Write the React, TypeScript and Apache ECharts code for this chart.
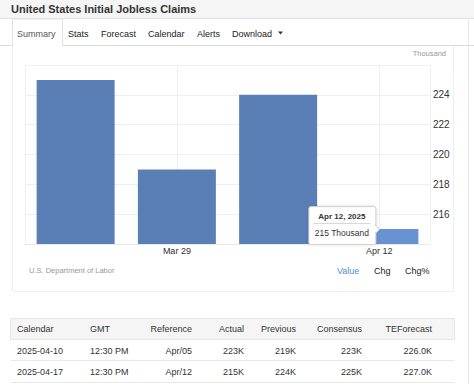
import React, { useEffect, useRef } from "react";
import * as echarts from "echarts";

const categories = ["Mar 22", "Mar 29", "Apr 5", "Apr 12"];
const fullDates = ["Mar 22, 2025", "Mar 29, 2025", "Apr 5, 2025", "Apr 12, 2025"];
const claims = [225, 219, 224, 215];
const yMin = 214;
const yMax = 226;
const yStep = 2;
const unit = "Thousand";
const hoveredIndex = 3;

const tabs = ["Summary", "Stats", "Forecast", "Calendar", "Alerts", "Download"];
const tabX = [17, 68, 101, 148, 197, 232];
const toggles = ["Value", "Chg", "Chg%"];
const toggleX = [337, 374, 405];

const tableHeaders = ["Calendar", "GMT", "Reference", "Actual", "Previous", "Consensus", "TEForecast"];
const tableRow1 = ["2025-04-10", "12:30 PM", "Apr/05", "223K", "219K", "223K", "226.0K"];
const tableRow2 = ["2025-04-17", "12:30 PM", "Apr/12", "215K", "224K", "225K", "227.0K"];
const tableRows = [tableRow1, tableRow2];

const FONT = "'Liberation Sans', Arial, Helvetica, sans-serif";
const BAR = "#5a7fb6";
const BAR_HOVER = "#6793d0";
const GRID = "#efefef";

export default function App() {
  const ref = useRef<HTMLDivElement>(null);
  useEffect(() => {
    document.body.style.margin = "0";
    if (!ref.current) return;
    const chart = echarts.init(ref.current, undefined, { renderer: "svg" });

    const g: any[] = [];
    // header strip
    g.push({ type: "rect", shape: { x: 0, y: 0, width: 474, height: 18.5 }, style: { fill: "#f5f5f5" }, silent: true });
    g.push({ type: "line", shape: { x1: 0, y1: 18.5, x2: 474, y2: 18.5 }, style: { stroke: "#e2e2e2", lineWidth: 1 }, silent: true });
    g.push({ type: "text", x: 11, y: 9, style: { text: "United States Initial Jobless Claims", font: `bold 11px ${FONT}`, fill: "#333", textVerticalAlign: "middle" }, silent: true });
    // tab bar
    g.push({ type: "line", shape: { x1: 0, y1: 45.5, x2: 12.5, y2: 45.5 }, style: { stroke: "#dcdcdc", lineWidth: 1 } });
    g.push({ type: "line", shape: { x1: 62.5, y1: 45.5, x2: 474, y2: 45.5 }, style: { stroke: "#dcdcdc", lineWidth: 1 } });
    g.push({ type: "polyline", shape: { points: [[12.5, 46], [12.5, 19], [62.5, 19], [62.5, 46]] }, style: { stroke: "#e2e2e2", fill: "none", lineWidth: 1 } });
    tabs.forEach((t, i) => {
      g.push({ type: "text", x: tabX[i], y: 33.5, style: { text: t, font: `9px ${FONT}`, fill: i === 0 ? "#555" : "#222", textVerticalAlign: "middle" } });
    });
    g.push({ type: "polygon", shape: { points: [[278, 31.5], [283, 31.5], [280.5, 34.5]] }, style: { fill: "#333" } });
    // right page edge
    g.push({ type: "line", shape: { x1: 468.5, y1: 19, x2: 468.5, y2: 384 }, style: { stroke: "#e6e6e6", lineWidth: 1 } });
    // chart panel borders
    g.push({ type: "polyline", shape: { points: [[12.5, 46], [12.5, 291.5], [453.5, 291.5], [453.5, 46]] }, style: { stroke: "#efefef", fill: "none", lineWidth: 1 } });
    g.push({ type: "text", x: 446, y: 53, style: { text: unit, font: `7.5px ${FONT}`, fill: "#999", textAlign: "right", textVerticalAlign: "middle" } });
    g.push({ type: "text", x: 29, y: 270, style: { text: "U.S. Department of Labor", font: `7.5px ${FONT}`, fill: "#999", textVerticalAlign: "middle" } });
    toggles.forEach((t, i) => {
      g.push({ type: "text", x: toggleX[i], y: 271, style: { text: t, font: `9px ${FONT}`, fill: i === 0 ? "#4a90d9" : "#222", textVerticalAlign: "middle" } });
    });
    // table
    g.push({ type: "rect", shape: { x: 10.5, y: 318.5, width: 444, height: 21 }, style: { fill: "#f5f5f5", stroke: "#e6e6e6", lineWidth: 1 } });
    g.push({ type: "line", shape: { x1: 10.5, y1: 360.5, x2: 454.5, y2: 360.5 }, style: { stroke: "#e8e8e8", lineWidth: 1 } });
    g.push({ type: "line", shape: { x1: 10.5, y1: 382.5, x2: 454.5, y2: 382.5 }, style: { stroke: "#e8e8e8", lineWidth: 1 } });
    const colLeft = [17, 90];
    const colRight = [0, 0, 192, 244, 296, 362, 432];
    const rowY = [329, 351, 372];
    [tableHeaders, ...tableRows].forEach((row, r) => {
      row.forEach((cell, c) => {
        const left = c < 2;
        g.push({
          type: "text",
          x: left ? colLeft[c] : colRight[c],
          y: rowY[r],
          style: { text: cell, font: `9px ${FONT}`, fill: "#333", textAlign: left ? "left" : "right", textVerticalAlign: "middle" },
        });
      });
    });

    const gridHelper = Array.from({ length: categories.length * 2 + 1 }, (_, i) => String(i));

    const option: any = {
      animation: false,
      backgroundColor: "#fff",
      textStyle: { fontFamily: FONT },
      grid: { left: 25, right: 44, top: 65, bottom: 140, containLabel: false },
      xAxis: [
        {
          type: "category",
          data: categories,
          axisLine: { show: true, lineStyle: { color: "#e8e8e8" } },
          axisTick: { show: false },
          splitLine: { show: false },
          axisLabel: { interval: (i: number) => i % 2 === 1, color: "#333", fontSize: 9, margin: 2, fontFamily: FONT },
        },
        {
          type: "category",
          data: gridHelper,
          boundaryGap: false,
          position: "bottom",
          axisLine: { show: false },
          axisTick: { show: false },
          axisLabel: { show: false },
          splitLine: { show: true, interval: (i: number) => i === 0 || i === gridHelper.length - 1 || i % 4 === 3, lineStyle: { color: GRID } },
        },
      ],
      yAxis: {
        type: "value",
        position: "right",
        min: yMin,
        max: yMax,
        interval: yStep,
        axisLine: { show: false },
        axisTick: { show: false },
        splitLine: { show: true, lineStyle: { color: GRID } },
        axisLabel: {
          color: "#333",
          fontSize: 10,
          margin: 3,
          fontFamily: FONT,
          padding: [0, 0, 3, 0],
          formatter: (v: number) => (v === yMin || v === yMax ? "" : String(v)),
        },
      },
      series: [
        {
          type: "bar",
          xAxisIndex: 0,
          barWidth: 78,
          data: claims.map((v, i) => ({ value: v, itemStyle: { color: i === hoveredIndex ? BAR_HOVER : BAR } })),
          silent: true,
        },
      ],
      graphic: g,
    };
    chart.setOption(option);

    const p = chart.convertToPixel({ xAxisIndex: 0, yAxisIndex: 0 } as any, [categories[hoveredIndex], claims[hoveredIndex]]) as number[];
    if (p && isFinite(p[0])) {
      const [px, py] = p;
      const bw = 67, bh = 38;
      const bx = px - 4 - bw;
      const by = py + 15 - bh;
      const cx = bx + bw / 2;
      const tip: any[] = [
        {
          type: "rect",
          shape: { x: bx + 0.5, y: by + 0.5, width: bw, height: bh, r: 2 },
          style: { fill: "#fff", stroke: "#cfcfcf", lineWidth: 1, shadowBlur: 3, shadowColor: "rgba(0,0,0,0.15)" },
          z: 100,
        },
        {
          type: "polygon",
          shape: { points: [[bx + bw + 0.5, py - 4], [bx + bw + 4, py + 0.5], [bx + bw + 0.5, py + 4]] },
          style: { fill: "#fff", stroke: "#cfcfcf", lineWidth: 1 },
          z: 101,
        },
        {
          type: "line",
          shape: { x1: bx + bw + 0.5, y1: py - 3, x2: bx + bw + 0.5, y2: py + 3 },
          style: { stroke: "#fff", lineWidth: 1.5 },
          z: 102,
        },
        {
          type: "text",
          x: cx,
          y: by + 10,
          style: { text: fullDates[hoveredIndex], font: `bold 8px ${FONT}`, fill: "#333", textAlign: "center", textVerticalAlign: "middle" },
          z: 103,
        },
        {
          type: "line",
          shape: { x1: bx + 5, y1: by + 17.5, x2: bx + bw - 5, y2: by + 17.5 },
          style: { stroke: "#d5d5d5", lineWidth: 1 },
          z: 103,
        },
        {
          type: "text",
          x: cx,
          y: by + 27,
          style: { text: `${claims[hoveredIndex]} ${unit}`, font: `8.5px ${FONT}`, fill: "#333", textAlign: "center", textVerticalAlign: "middle" },
          z: 103,
        },
      ];
      chart.setOption({ graphic: [...g, ...tip] });
    }

    return () => chart.dispose();
  }, []);
  return <div ref={ref} style={{ width: 474, height: 384 }} />;
}
